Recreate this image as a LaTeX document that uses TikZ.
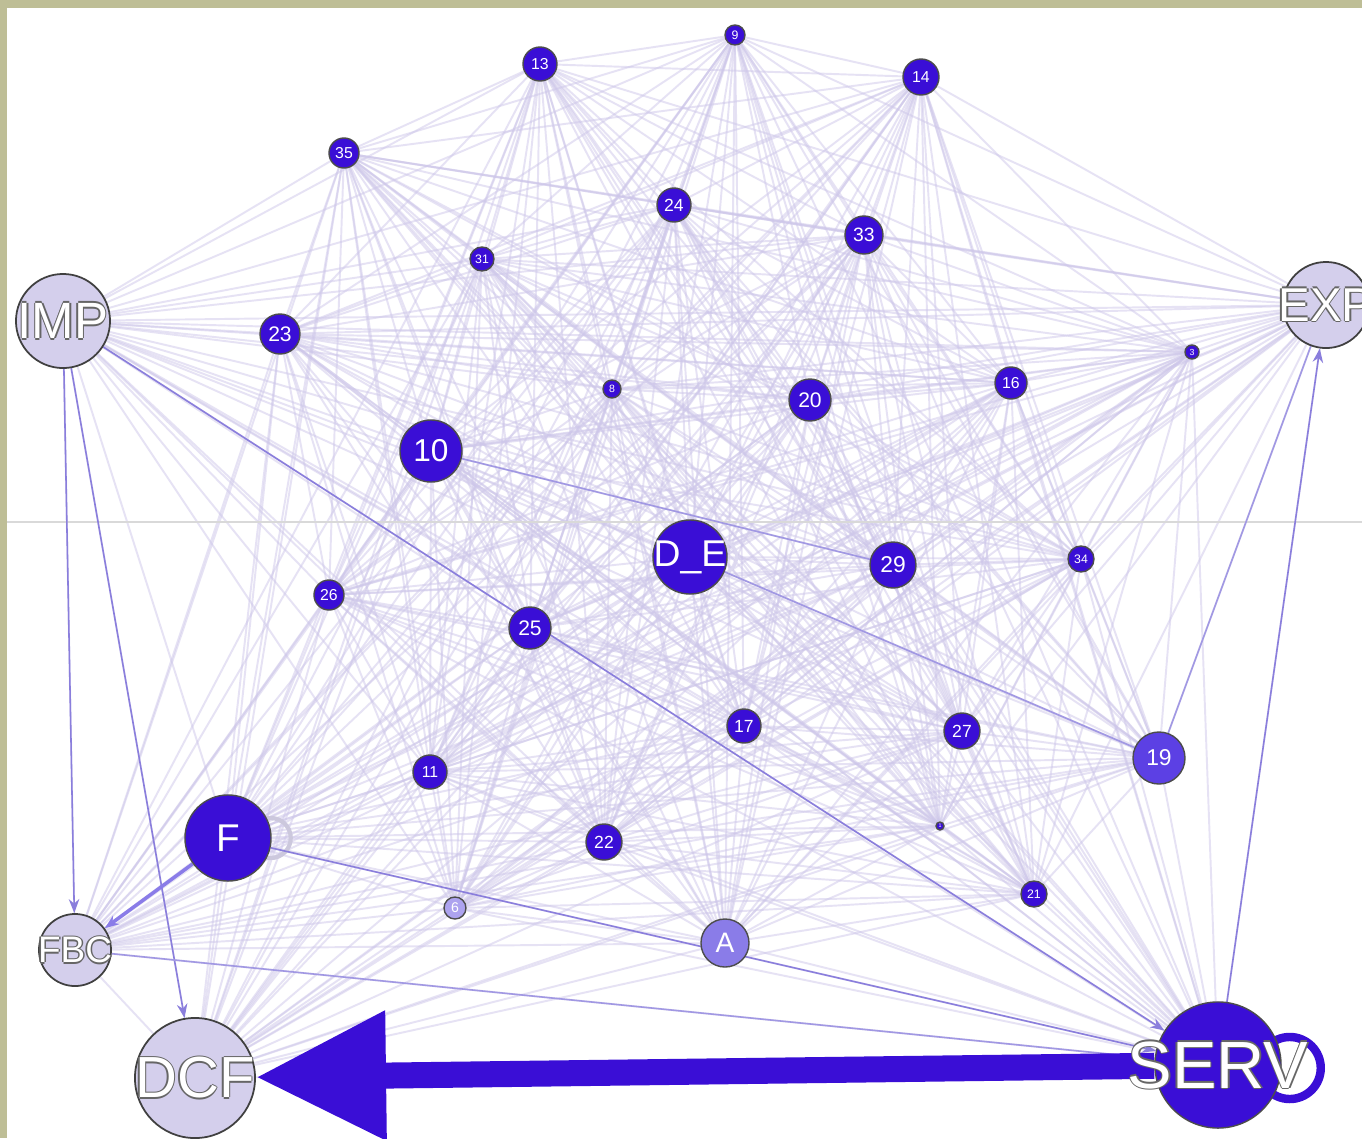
\documentclass[tikz,border=0pt]{standalone}
\usepackage{fontspec}
\setmainfont{Liberation Sans}
\setsansfont{Liberation Sans}
\usetikzlibrary{arrows.meta}
\usetikzlibrary{calc}

\definecolor{nodeblue}{RGB}{58,14,214}
\definecolor{midblue}{RGB}{92,64,228}
\definecolor{lightblue}{RGB}{138,124,232}
\definecolor{lav}{RGB}{212,207,236}
\definecolor{meshcol}{RGB}{206,199,234}
\definecolor{linkcol}{RGB}{138,126,220}
\definecolor{framecol}{RGB}{190,190,150}

\pgfdeclarelayer{bg}
\pgfsetlayers{bg,main}

% white text with a grey rim, as in the big light nodes
\newcommand{\outl}[1]{\leavevmode
  \rlap{\kern-0.45pt\textcolor{black!60}{#1}}%
  \rlap{\kern0.45pt\textcolor{black!60}{#1}}%
  \rlap{\raisebox{0.45pt}{\textcolor{black!60}{#1}}}%
  \rlap{\raisebox{-0.45pt}{\textcolor{black!60}{#1}}}%
  \textcolor{white}{#1}}
\newcommand{\ctr}[1]{\makebox[0pt]{#1}}
\newcommand{\fsz}[1]{\fontsize{#1}{#1}\selectfont}

\begin{document}
\begin{tikzpicture}[x=0.01cm, y=-0.01cm,
        rad/.style={minimum size=#1*0.02cm},
        node_style/.style={circle,draw=black!70,fill=nodeblue,text=white,inner sep=0pt,line width=0.4pt,font=\sffamily},
        light_node_style/.style={circle,draw=black!75,fill=lav,inner sep=0pt,line width=0.5pt,font=\sffamily},
        edge_style/.style={draw=meshcol, line width=0.55pt, opacity=0.5},
        link_style/.style={draw=linkcol, line width=0.45pt, -{Stealth[length=4pt,width=3pt]}},
        plain_link_style/.style={draw=linkcol!80, line width=0.45pt},
        big_edge_style/.style={draw=nodeblue, line width=7.4pt, -{Triangle[length=37pt,width=35pt]}}]

        \useasboundingbox (0,0) rectangle (1362,1138);
        \clip (0,0) rectangle (1362,1138);

        % big nodes
        \node [light_node_style,rad=47,font=\sffamily\fsz{14.5}] (imp) at (63,321) {\ctr{\outl{IMP}}};
        \node [light_node_style,rad=43,font=\sffamily\fsz{13.5}] (exp) at (1326,305) {\ctr{\outl{EXP}}};
        \node [light_node_style,rad=36,font=\sffamily\fsz{10.5}] (fbc) at (75,950) {\ctr{\outl{FBC}}};
        \node [light_node_style,rad=60,font=\sffamily\fsz{16.5}] (dcf) at (195,1078) {\ctr{\outl{DCF}}};
        \node [node_style,rad=43,font=\sffamily\fsz{11}] (f) at (228,838) {\ctr{F}};
        \node [node_style,rad=63,font=\sffamily\fsz{19}] (serv) at (1218,1065) {\ctr{\outl{SERV}}};
        \node [node_style,rad=37,font=\sffamily\fsz{10.6}] (de) at (690,557) {\ctr{D\_E}};
        \node [node_style,fill=lightblue,rad=24,font=\sffamily\fsz{8}] (a) at (725,943) {\ctr{A}};

        % numbered nodes
        \node [node_style,rad=31,font=\sffamily\fsz{9}] (n10) at (431,451) {\ctr{10}};
        \node [node_style,rad=23,font=\sffamily\fsz{6.5}] (n29) at (893,565) {\ctr{29}};
        \node [node_style,fill=midblue,rad=26,font=\sffamily\fsz{6.5}] (n19) at (1159,758) {\ctr{19}};
        \node [node_style,rad=21,font=\sffamily\fsz{6}] (n20) at (810,400) {\ctr{20}};
        \node [node_style,rad=20,font=\sffamily\fsz{6}] (n23) at (280,334) {\ctr{23}};
        \node [node_style,rad=21,font=\sffamily\fsz{6}] (n25) at (530,628) {\ctr{25}};
        \node [node_style,rad=17,font=\sffamily\fsz{5}] (n24) at (674,205) {\ctr{24}};
        \node [node_style,rad=19,font=\sffamily\fsz{5.5}] (n33) at (864,235) {\ctr{33}};
        \node [node_style,rad=17,font=\sffamily\fsz{4.5}] (n13) at (540,64) {\ctr{13}};
        \node [node_style,rad=18,font=\sffamily\fsz{4.5}] (n14) at (921,77) {\ctr{14}};
        \node [node_style,rad=15,font=\sffamily\fsz{4.5}] (n35) at (344,153) {\ctr{35}};
        \node [node_style,rad=16,font=\sffamily\fsz{4.5}] (n16) at (1011,383) {\ctr{16}};
        \node [node_style,rad=17,font=\sffamily\fsz{5}] (n17) at (744,726) {\ctr{17}};
        \node [node_style,rad=18,font=\sffamily\fsz{5}] (n27) at (962,731) {\ctr{27}};
        \node [node_style,rad=17,font=\sffamily\fsz{4.5}] (n11) at (430,772) {\ctr{11}};
        \node [node_style,rad=18,font=\sffamily\fsz{5}] (n22) at (604,842) {\ctr{22}};
        \node [node_style,rad=15,font=\sffamily\fsz{4.5}] (n26) at (329,595) {\ctr{26}};
        \node [node_style,rad=10,font=\sffamily\fsz{3.5}] (n9) at (735,35) {\ctr{9}};
        \node [node_style,rad=12,font=\sffamily\fsz{3.5}] (n31) at (482,259) {\ctr{31}};
        \node [node_style,rad=9,font=\sffamily\fsz{3}] (n8) at (612,389) {\ctr{8}};
        \node [node_style,rad=7,font=\sffamily\fsz{2.5}] (n3) at (1192,352) {\ctr{3}};
        \node [node_style,rad=13,font=\sffamily\fsz{3.5}] (n34) at (1081,559) {\ctr{34}};
        \node [node_style,fill=lightblue!70,rad=11,font=\sffamily\fsz{4}] (n6) at (455,908) {\ctr{6}};
        \node [node_style,rad=4,font=\sffamily\fsz{1.5}] (n1) at (940,826) {\ctr{1}};
        \node [node_style,rad=13,font=\sffamily\fsz{3.5}] (n21) at (1034,894) {\ctr{21}};

        \def\allnodes{imp,exp,fbc,dcf,f,serv,de,a,n10,n29,n19,n20,n23,n25,n24,n33,n13,n14,n35,n16,n17,n27,n11,n22,n26,n9,n31,n8,n3,n34,n6,n1,n21}

        \begin{pgfonlayer}{bg}
        \fill [white] (0,0) rectangle (1362,1138);
        % the mesh of faint links
        \foreach \a [count=\i] in \allnodes {
            \foreach \b [count=\j] in \allnodes {
                \ifnum\j>\i \draw [edge_style] (\a) -- (\b); \fi
            }
        }
        \draw [lightgray!60, line width=0.3pt] (7,522) -- (1362,522);

        % self loops
        \draw [draw=lav!90!black!80, line width=1.2pt] ($(f.east)+(-0.01cm,0)$) circle (0.2cm);
        \draw [draw=lav!80, line width=0.8pt] ($(de.east)+(-0.08cm,0)$) circle (0.17cm);
        \draw [draw=nodeblue, line width=2.4pt] ($(serv.east)+(0.08cm,-0.03cm)$) circle (0.31cm);

        % darker links
        \draw [link_style] (imp) -- (fbc);
        \draw [link_style] (imp) -- (dcf);
        \draw [link_style] (imp) -- (serv);
        \draw [link_style] (serv) -- (exp);
        \draw [link_style, draw=lightblue, line width=1pt] (f) -- (fbc);
        \draw [link_style] (f) -- (serv);
        \draw [plain_link_style] (fbc) -- (serv);
        \draw [plain_link_style] (de) -- (n19);
        \draw [plain_link_style] (n10) -- (n29);
        \draw [plain_link_style] (n19) -- (exp);

        \draw [big_edge_style] (serv) -- (dcf);
        \end{pgfonlayer}

        % frame
        \fill [framecol] (0,0) rectangle (1362,8);
        \fill [framecol] (0,0) rectangle (7,1138);

\end{tikzpicture}
\end{document}
